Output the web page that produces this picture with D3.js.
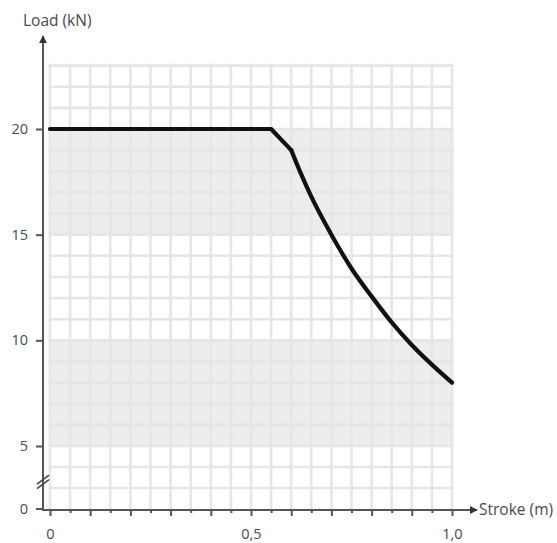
<!DOCTYPE html>
<html>
<head>
<meta charset="utf-8">
<script src="https://cdn.jsdelivr.net/npm/d3@7"></script>
<style>
  html, body { margin: 0; padding: 0; background: #ffffff; }
  svg { display: block; }
  text { font-family: "Open Sans", "DejaVu Sans", sans-serif; }
</style>
</head>
<body>
<svg id="chart" width="557" height="543"></svg>
<script>
// ---- data ----
const strokeValues = [0, 0.55, 0.6, 0.625, 0.65, 0.7, 0.75, 0.8, 0.85, 0.9, 0.95, 1.0];
const loadValues   = [20, 20, 19.0, 17.85, 16.8, 15.0, 13.4, 12.08, 10.85, 9.78, 8.85, 8.0];
const kneeIndex = 2; // straight segments up to here, smooth curve after
const yTickValues = [0, 5, 10, 15, 20];
const yTickLabels = ["0", "5", "10", "15", "20"];
const xMajorTicks = [0, 0.1, 0.2, 0.3, 0.4, 0.5, 0.6, 0.7, 0.8, 0.9, 1.0];
const xMinorTicks = [0.05, 0.15, 0.25, 0.35, 0.45, 0.55, 0.65, 0.75, 0.85, 0.95];
const xTickLabels = { "0": "0", "0.5": "0,5", "1": "1,0" };
const shadedBands = [[5, 10], [15, 20]];
const xGridValues = d3.range(0, 21).map(i => i * 0.05);
const yGridValues = [5 / 3, 10 / 3].concat(d3.range(5, 24));
const xLabel = "Stroke (m)";
const yLabel = "Load (kN)";

// ---- scales ----
const svg = d3.select("#chart");
const x = d3.scaleLinear().domain([0, 1]).range([50, 452]);
// broken axis: 0..5 is compressed (axis break), 5..23 linear
const y = d3.scaleLinear().domain([0, 5, 20]).range([509, 446, 129]);
const yTop = 23.1;
const axisX = 43, axisY = 510;

// ---- shaded bands ----
svg.append("g").selectAll("rect").data(shadedBands).join("rect")
  .attr("x", x(0) - 1.5)
  .attr("width", x(1) - x(0) + 3)
  .attr("y", d => y(d[1]))
  .attr("height", d => y(d[0]) - y(d[1]))
  .attr("fill", "#ededed");

// ---- grid ----
const grid = svg.append("g").attr("stroke", "#e6e6e6").attr("stroke-width", 2.6);
grid.selectAll("line.v").data(xGridValues).join("line").attr("class", "v")
  .attr("x1", d => x(d)).attr("x2", d => x(d))
  .attr("y1", y(yTop)).attr("y2", y(0));
grid.selectAll("line.h").data(yGridValues).join("line").attr("class", "h")
  .attr("x1", x(0) - 1.5).attr("x2", x(1) + 1.5)
  .attr("y1", d => y(d)).attr("y2", d => y(d));

// ---- curve ----
const pts = strokeValues.map((s, i) => [s, loadValues[i]]);
const lineStraight = d3.line().x(d => x(d[0])).y(d => y(d[1])).curve(d3.curveLinear);
const lineSmooth = d3.line().x(d => x(d[0])).y(d => y(d[1])).curve(d3.curveMonotoneX);
const curveG = svg.append("g").attr("fill", "none").attr("stroke", "#111111")
  .attr("stroke-width", 4.2).attr("stroke-linejoin", "round").attr("stroke-linecap", "round");
curveG.append("path").attr("d", lineStraight(pts.slice(0, kneeIndex + 1)));
curveG.append("path").attr("d", lineSmooth(pts.slice(kneeIndex)));

// ---- axes ----
const axisColor = "#555555";
const textColor = "#4a4a4a";

const defs = svg.append("defs");
defs.append("marker").attr("id", "arrow")
  .attr("viewBox", "0 0 10 10").attr("refX", 9).attr("refY", 5)
  .attr("markerWidth", 4).attr("markerHeight", 4).attr("orient", "auto")
  .attr("markerUnits", "strokeWidth")
  .append("path").attr("d", "M0,0L10,5L0,10Z").attr("fill", "#333333");

svg.append("line")
  .attr("x1", axisX).attr("x2", axisX)
  .attr("y1", axisY + 1).attr("y2", 36)
  .attr("stroke", axisColor).attr("stroke-width", 2)
  .attr("marker-end", "url(#arrow)");
svg.append("line")
  .attr("x1", axisX - 1).attr("x2", 477)
  .attr("y1", axisY).attr("y2", axisY)
  .attr("stroke", axisColor).attr("stroke-width", 2)
  .attr("marker-end", "url(#arrow)");

// y axis ticks
const yAxis = d3.axisLeft(y).tickValues(yTickValues)
  .tickFormat((d, i) => yTickLabels[i]).tickSize(7).tickPadding(8).tickSizeOuter(0);
const gy = svg.append("g").attr("transform", `translate(${axisX},0)`).call(yAxis);
gy.select(".domain").remove();
gy.selectAll("line").attr("stroke", axisColor).attr("stroke-width", 2);
gy.selectAll("text").attr("fill", textColor).attr("font-size", 14.5);
gy.selectAll(".tick").filter(d => d === 0).attr("transform", `translate(0,${axisY - 1})`);

// x axis ticks
const xAxis = d3.axisBottom(x).tickValues(xMajorTicks)
  .tickFormat(d => xTickLabels[String(+d.toFixed(2))] || "")
  .tickSize(6).tickPadding(13).tickSizeOuter(0);
const gx = svg.append("g").attr("transform", `translate(0,${axisY})`).call(xAxis);
gx.select(".domain").remove();
gx.selectAll("line").attr("stroke", axisColor).attr("stroke-width", 2);
gx.selectAll("text").attr("fill", textColor).attr("font-size", 14.5);
const xMinor = d3.axisBottom(x).tickValues(xMinorTicks).tickFormat("").tickSize(3).tickSizeOuter(0);
const gxm = svg.append("g").attr("transform", `translate(0,${axisY})`).call(xMinor);
gxm.select(".domain").remove();
gxm.selectAll("line").attr("stroke", axisColor).attr("stroke-width", 2);

// axis break marks
const brk = svg.append("g").attr("stroke", "#444444").attr("stroke-width", 1.6);
[0, 4.5].forEach(off => {
  brk.append("line")
    .attr("x1", axisX - 6).attr("y1", y(2.3) + off + 4)
    .attr("x2", axisX + 6).attr("y2", y(2.3) + off - 5);
});

// axis titles
svg.append("text").attr("x", 23).attr("y", 26)
  .attr("fill", textColor).attr("font-size", 15.5).text(yLabel);
svg.append("text").attr("x", 479).attr("y", 515)
  .attr("fill", textColor).attr("font-size", 15.5).text(xLabel);
</script>
</body>
</html>
